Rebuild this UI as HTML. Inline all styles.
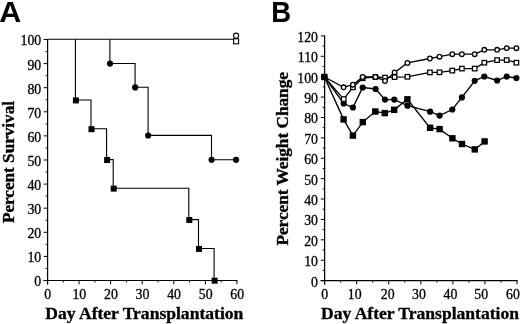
<!DOCTYPE html>
<html><head><meta charset="utf-8"><title>Figure</title>
<style>
html,body{margin:0;padding:0;background:#fff;}
body{width:520px;height:324px;overflow:hidden;font-family:"Liberation Serif",serif;}
svg{display:block;filter:grayscale(1);}
</style></head><body>
<svg width="520" height="324" viewBox="0 0 520 324">
<rect width="520" height="324" fill="#fff"/>
<line x1="47.6" y1="39" x2="47.6" y2="284.5" stroke="#000" stroke-width="1.25"/>
<line x1="43.5" y1="280.5" x2="237.42" y2="280.5" stroke="#000" stroke-width="1.2"/>
<line x1="43.7" y1="280.5" x2="47.5" y2="280.5" stroke="#000" stroke-width="1.0"/>
<text x="41.2" y="286.4" font-size="13.8" text-anchor="end" font-weight="normal" font-family="Liberation Serif, serif" stroke="#000" stroke-width="0.3">0</text>
<line x1="45.6" y1="268.45" x2="47.5" y2="268.45" stroke="#000" stroke-width="1.0"/>
<line x1="43.7" y1="256.4" x2="47.5" y2="256.4" stroke="#000" stroke-width="1.0"/>
<text x="41.2" y="262.3" font-size="13.8" text-anchor="end" font-weight="normal" font-family="Liberation Serif, serif" stroke="#000" stroke-width="0.3">10</text>
<line x1="45.6" y1="244.35" x2="47.5" y2="244.35" stroke="#000" stroke-width="1.0"/>
<line x1="43.7" y1="232.3" x2="47.5" y2="232.3" stroke="#000" stroke-width="1.0"/>
<text x="41.2" y="238.2" font-size="13.8" text-anchor="end" font-weight="normal" font-family="Liberation Serif, serif" stroke="#000" stroke-width="0.3">20</text>
<line x1="45.6" y1="220.25" x2="47.5" y2="220.25" stroke="#000" stroke-width="1.0"/>
<line x1="43.7" y1="208.2" x2="47.5" y2="208.2" stroke="#000" stroke-width="1.0"/>
<text x="41.2" y="214.1" font-size="13.8" text-anchor="end" font-weight="normal" font-family="Liberation Serif, serif" stroke="#000" stroke-width="0.3">30</text>
<line x1="45.6" y1="196.15" x2="47.5" y2="196.15" stroke="#000" stroke-width="1.0"/>
<line x1="43.7" y1="184.1" x2="47.5" y2="184.1" stroke="#000" stroke-width="1.0"/>
<text x="41.2" y="190" font-size="13.8" text-anchor="end" font-weight="normal" font-family="Liberation Serif, serif" stroke="#000" stroke-width="0.3">40</text>
<line x1="45.6" y1="172.05" x2="47.5" y2="172.05" stroke="#000" stroke-width="1.0"/>
<line x1="43.7" y1="160" x2="47.5" y2="160" stroke="#000" stroke-width="1.0"/>
<text x="41.2" y="165.9" font-size="13.8" text-anchor="end" font-weight="normal" font-family="Liberation Serif, serif" stroke="#000" stroke-width="0.3">50</text>
<line x1="45.6" y1="147.95" x2="47.5" y2="147.95" stroke="#000" stroke-width="1.0"/>
<line x1="43.7" y1="135.9" x2="47.5" y2="135.9" stroke="#000" stroke-width="1.0"/>
<text x="41.2" y="141.8" font-size="13.8" text-anchor="end" font-weight="normal" font-family="Liberation Serif, serif" stroke="#000" stroke-width="0.3">60</text>
<line x1="45.6" y1="123.85" x2="47.5" y2="123.85" stroke="#000" stroke-width="1.0"/>
<line x1="43.7" y1="111.8" x2="47.5" y2="111.8" stroke="#000" stroke-width="1.0"/>
<text x="41.2" y="117.7" font-size="13.8" text-anchor="end" font-weight="normal" font-family="Liberation Serif, serif" stroke="#000" stroke-width="0.3">70</text>
<line x1="45.6" y1="99.75" x2="47.5" y2="99.75" stroke="#000" stroke-width="1.0"/>
<line x1="43.7" y1="87.7" x2="47.5" y2="87.7" stroke="#000" stroke-width="1.0"/>
<text x="41.2" y="93.6" font-size="13.8" text-anchor="end" font-weight="normal" font-family="Liberation Serif, serif" stroke="#000" stroke-width="0.3">80</text>
<line x1="45.6" y1="75.65" x2="47.5" y2="75.65" stroke="#000" stroke-width="1.0"/>
<line x1="43.7" y1="63.6" x2="47.5" y2="63.6" stroke="#000" stroke-width="1.0"/>
<text x="41.2" y="69.5" font-size="13.8" text-anchor="end" font-weight="normal" font-family="Liberation Serif, serif" stroke="#000" stroke-width="0.3">90</text>
<line x1="45.6" y1="51.55" x2="47.5" y2="51.55" stroke="#000" stroke-width="1.0"/>
<line x1="43.7" y1="39.5" x2="47.5" y2="39.5" stroke="#000" stroke-width="1.0"/>
<text x="41.2" y="45.4" font-size="13.8" text-anchor="end" font-weight="normal" font-family="Liberation Serif, serif" stroke="#000" stroke-width="0.3">100</text>
<line x1="47.5" y1="280.5" x2="47.5" y2="284.3" stroke="#000" stroke-width="1.0"/>
<text x="47.8" y="298.7" font-size="13.8" text-anchor="middle" font-weight="normal" font-family="Liberation Serif, serif" stroke="#000" stroke-width="0.3">0</text>
<line x1="63.28" y1="280.5" x2="63.28" y2="282.4" stroke="#000" stroke-width="1.0"/>
<line x1="79.07" y1="280.5" x2="79.07" y2="284.3" stroke="#000" stroke-width="1.0"/>
<text x="79.37" y="298.7" font-size="13.8" text-anchor="middle" font-weight="normal" font-family="Liberation Serif, serif" stroke="#000" stroke-width="0.3">10</text>
<line x1="94.86" y1="280.5" x2="94.86" y2="282.4" stroke="#000" stroke-width="1.0"/>
<line x1="110.64" y1="280.5" x2="110.64" y2="284.3" stroke="#000" stroke-width="1.0"/>
<text x="110.94" y="298.7" font-size="13.8" text-anchor="middle" font-weight="normal" font-family="Liberation Serif, serif" stroke="#000" stroke-width="0.3">20</text>
<line x1="126.42" y1="280.5" x2="126.42" y2="282.4" stroke="#000" stroke-width="1.0"/>
<line x1="142.21" y1="280.5" x2="142.21" y2="284.3" stroke="#000" stroke-width="1.0"/>
<text x="142.51" y="298.7" font-size="13.8" text-anchor="middle" font-weight="normal" font-family="Liberation Serif, serif" stroke="#000" stroke-width="0.3">30</text>
<line x1="158" y1="280.5" x2="158" y2="282.4" stroke="#000" stroke-width="1.0"/>
<line x1="173.78" y1="280.5" x2="173.78" y2="284.3" stroke="#000" stroke-width="1.0"/>
<text x="174.08" y="298.7" font-size="13.8" text-anchor="middle" font-weight="normal" font-family="Liberation Serif, serif" stroke="#000" stroke-width="0.3">40</text>
<line x1="189.56" y1="280.5" x2="189.56" y2="282.4" stroke="#000" stroke-width="1.0"/>
<line x1="205.35" y1="280.5" x2="205.35" y2="284.3" stroke="#000" stroke-width="1.0"/>
<text x="205.65" y="298.7" font-size="13.8" text-anchor="middle" font-weight="normal" font-family="Liberation Serif, serif" stroke="#000" stroke-width="0.3">50</text>
<line x1="221.13" y1="280.5" x2="221.13" y2="282.4" stroke="#000" stroke-width="1.0"/>
<line x1="236.92" y1="280.5" x2="236.92" y2="284.3" stroke="#000" stroke-width="1.0"/>
<text x="237.22" y="298.7" font-size="13.8" text-anchor="middle" font-weight="normal" font-family="Liberation Serif, serif" stroke="#000" stroke-width="0.3">60</text>
<line x1="47.5" y1="39.2" x2="236" y2="39.2" stroke="#000" stroke-width="1.1"/>
<polyline points="75.4,39.2 75.4,100 91,100 91,128.8 106.6,128.8 106.6,159.6 113.2,159.6 113.2,188.2 188.8,188.2 188.8,219.6 198.5,219.6 198.5,248.5 214.1,248.5 214.1,280.3" fill="none" stroke="#000" stroke-width="1.1" stroke-linejoin="miter"/>
<polyline points="109.9,39.2 109.9,63.5 135.1,63.5 135.1,87.3 148.1,87.3 148.1,135.4 211.5,135.4 211.5,159.7 236,159.7" fill="none" stroke="#000" stroke-width="1.1" stroke-linejoin="miter"/>
<rect x="72.9" y="97.4" width="6.0" height="6.0" fill="#000"/>
<rect x="88.5" y="126.2" width="6.0" height="6.0" fill="#000"/>
<rect x="104.1" y="157" width="6.0" height="6.0" fill="#000"/>
<rect x="110.7" y="185.6" width="6.0" height="6.0" fill="#000"/>
<rect x="186.3" y="217" width="6.0" height="6.0" fill="#000"/>
<rect x="196" y="245.9" width="6.0" height="6.0" fill="#000"/>
<rect x="211.6" y="277.7" width="6.0" height="6.0" fill="#000"/>
<circle cx="110" cy="63.6" r="3.1" fill="#000"/>
<circle cx="135.2" cy="87.4" r="3.1" fill="#000"/>
<circle cx="148.2" cy="135.5" r="3.1" fill="#000"/>
<circle cx="211.6" cy="159.8" r="3.1" fill="#000"/>
<circle cx="236.1" cy="159.8" r="3.1" fill="#000"/>
<rect x="233.6" y="38.8" width="5.0" height="5.0" fill="#fff" stroke="#000" stroke-width="1.1"/>
<circle cx="236.1" cy="35.7" r="2.55" fill="#fff" stroke="#000" stroke-width="1.1"/>
<text x="14.2" y="162" font-size="17.2" text-anchor="middle" font-weight="bold" font-family="Liberation Serif, serif" stroke="#000" stroke-width="0.35" textLength="122" lengthAdjust="spacingAndGlyphs" transform="rotate(-90 14.2 162)">Percent Survival</text>
<text x="45.3" y="318.5" font-size="15.8" text-anchor="start" font-weight="bold" font-family="Liberation Serif, serif" stroke="#000" stroke-width="0.3" textLength="198" lengthAdjust="spacingAndGlyphs">Day After Transplantation</text>
<text transform="translate(-0.7 21.8) scale(1.05 1)" font-size="29" font-weight="bold" font-family="Liberation Sans, sans-serif">A</text>
<line x1="324.6" y1="35.42" x2="324.6" y2="284.6" stroke="#000" stroke-width="1.25"/>
<line x1="320.6" y1="280.6" x2="517.52" y2="280.6" stroke="#000" stroke-width="1.2"/>
<line x1="320.8" y1="280.6" x2="324.6" y2="280.6" stroke="#000" stroke-width="1.0"/>
<text x="318" y="286.6" font-size="13.8" text-anchor="end" font-weight="normal" font-family="Liberation Serif, serif" stroke="#000" stroke-width="0.3">0</text>
<line x1="322.7" y1="270.41" x2="324.6" y2="270.41" stroke="#000" stroke-width="1.0"/>
<line x1="320.8" y1="260.21" x2="324.6" y2="260.21" stroke="#000" stroke-width="1.0"/>
<text x="318" y="266.21" font-size="13.8" text-anchor="end" font-weight="normal" font-family="Liberation Serif, serif" stroke="#000" stroke-width="0.3">10</text>
<line x1="322.7" y1="250.02" x2="324.6" y2="250.02" stroke="#000" stroke-width="1.0"/>
<line x1="320.8" y1="239.82" x2="324.6" y2="239.82" stroke="#000" stroke-width="1.0"/>
<text x="318" y="245.82" font-size="13.8" text-anchor="end" font-weight="normal" font-family="Liberation Serif, serif" stroke="#000" stroke-width="0.3">20</text>
<line x1="322.7" y1="229.63" x2="324.6" y2="229.63" stroke="#000" stroke-width="1.0"/>
<line x1="320.8" y1="219.43" x2="324.6" y2="219.43" stroke="#000" stroke-width="1.0"/>
<text x="318" y="225.43" font-size="13.8" text-anchor="end" font-weight="normal" font-family="Liberation Serif, serif" stroke="#000" stroke-width="0.3">30</text>
<line x1="322.7" y1="209.24" x2="324.6" y2="209.24" stroke="#000" stroke-width="1.0"/>
<line x1="320.8" y1="199.04" x2="324.6" y2="199.04" stroke="#000" stroke-width="1.0"/>
<text x="318" y="205.04" font-size="13.8" text-anchor="end" font-weight="normal" font-family="Liberation Serif, serif" stroke="#000" stroke-width="0.3">40</text>
<line x1="322.7" y1="188.85" x2="324.6" y2="188.85" stroke="#000" stroke-width="1.0"/>
<line x1="320.8" y1="178.65" x2="324.6" y2="178.65" stroke="#000" stroke-width="1.0"/>
<text x="318" y="184.65" font-size="13.8" text-anchor="end" font-weight="normal" font-family="Liberation Serif, serif" stroke="#000" stroke-width="0.3">50</text>
<line x1="322.7" y1="168.46" x2="324.6" y2="168.46" stroke="#000" stroke-width="1.0"/>
<line x1="320.8" y1="158.26" x2="324.6" y2="158.26" stroke="#000" stroke-width="1.0"/>
<text x="318" y="164.26" font-size="13.8" text-anchor="end" font-weight="normal" font-family="Liberation Serif, serif" stroke="#000" stroke-width="0.3">60</text>
<line x1="322.7" y1="148.07" x2="324.6" y2="148.07" stroke="#000" stroke-width="1.0"/>
<line x1="320.8" y1="137.87" x2="324.6" y2="137.87" stroke="#000" stroke-width="1.0"/>
<text x="318" y="143.87" font-size="13.8" text-anchor="end" font-weight="normal" font-family="Liberation Serif, serif" stroke="#000" stroke-width="0.3">70</text>
<line x1="322.7" y1="127.68" x2="324.6" y2="127.68" stroke="#000" stroke-width="1.0"/>
<line x1="320.8" y1="117.48" x2="324.6" y2="117.48" stroke="#000" stroke-width="1.0"/>
<text x="318" y="123.48" font-size="13.8" text-anchor="end" font-weight="normal" font-family="Liberation Serif, serif" stroke="#000" stroke-width="0.3">80</text>
<line x1="322.7" y1="107.28" x2="324.6" y2="107.28" stroke="#000" stroke-width="1.0"/>
<line x1="320.8" y1="97.09" x2="324.6" y2="97.09" stroke="#000" stroke-width="1.0"/>
<text x="318" y="103.09" font-size="13.8" text-anchor="end" font-weight="normal" font-family="Liberation Serif, serif" stroke="#000" stroke-width="0.3">90</text>
<line x1="322.7" y1="86.9" x2="324.6" y2="86.9" stroke="#000" stroke-width="1.0"/>
<line x1="320.8" y1="76.7" x2="324.6" y2="76.7" stroke="#000" stroke-width="1.0"/>
<text x="318" y="82.7" font-size="13.8" text-anchor="end" font-weight="normal" font-family="Liberation Serif, serif" stroke="#000" stroke-width="0.3">100</text>
<line x1="322.7" y1="66.5" x2="324.6" y2="66.5" stroke="#000" stroke-width="1.0"/>
<line x1="320.8" y1="56.31" x2="324.6" y2="56.31" stroke="#000" stroke-width="1.0"/>
<text x="318" y="62.31" font-size="13.8" text-anchor="end" font-weight="normal" font-family="Liberation Serif, serif" stroke="#000" stroke-width="0.3">110</text>
<line x1="322.7" y1="46.12" x2="324.6" y2="46.12" stroke="#000" stroke-width="1.0"/>
<line x1="320.8" y1="35.92" x2="324.6" y2="35.92" stroke="#000" stroke-width="1.0"/>
<text x="318" y="41.92" font-size="13.8" text-anchor="end" font-weight="normal" font-family="Liberation Serif, serif" stroke="#000" stroke-width="0.3">120</text>
<line x1="324.6" y1="280.6" x2="324.6" y2="284.4" stroke="#000" stroke-width="1.0"/>
<text x="324.8" y="298.6" font-size="13.8" text-anchor="middle" font-weight="normal" font-family="Liberation Serif, serif" stroke="#000" stroke-width="0.3">0</text>
<line x1="340.64" y1="280.6" x2="340.64" y2="282.5" stroke="#000" stroke-width="1.0"/>
<line x1="356.67" y1="280.6" x2="356.67" y2="284.4" stroke="#000" stroke-width="1.0"/>
<text x="354.7" y="298.6" font-size="13.8" text-anchor="middle" font-weight="normal" font-family="Liberation Serif, serif" stroke="#000" stroke-width="0.3">10</text>
<line x1="372.71" y1="280.6" x2="372.71" y2="282.5" stroke="#000" stroke-width="1.0"/>
<line x1="388.74" y1="280.6" x2="388.74" y2="284.4" stroke="#000" stroke-width="1.0"/>
<text x="387.7" y="298.6" font-size="13.8" text-anchor="middle" font-weight="normal" font-family="Liberation Serif, serif" stroke="#000" stroke-width="0.3">20</text>
<line x1="404.78" y1="280.6" x2="404.78" y2="282.5" stroke="#000" stroke-width="1.0"/>
<line x1="420.81" y1="280.6" x2="420.81" y2="284.4" stroke="#000" stroke-width="1.0"/>
<text x="418.9" y="298.6" font-size="13.8" text-anchor="middle" font-weight="normal" font-family="Liberation Serif, serif" stroke="#000" stroke-width="0.3">30</text>
<line x1="436.85" y1="280.6" x2="436.85" y2="282.5" stroke="#000" stroke-width="1.0"/>
<line x1="452.88" y1="280.6" x2="452.88" y2="284.4" stroke="#000" stroke-width="1.0"/>
<text x="450.4" y="298.6" font-size="13.8" text-anchor="middle" font-weight="normal" font-family="Liberation Serif, serif" stroke="#000" stroke-width="0.3">40</text>
<line x1="468.92" y1="280.6" x2="468.92" y2="282.5" stroke="#000" stroke-width="1.0"/>
<line x1="484.95" y1="280.6" x2="484.95" y2="284.4" stroke="#000" stroke-width="1.0"/>
<text x="481.2" y="298.6" font-size="13.8" text-anchor="middle" font-weight="normal" font-family="Liberation Serif, serif" stroke="#000" stroke-width="0.3">50</text>
<line x1="500.99" y1="280.6" x2="500.99" y2="282.5" stroke="#000" stroke-width="1.0"/>
<line x1="517.02" y1="280.6" x2="517.02" y2="284.4" stroke="#000" stroke-width="1.0"/>
<text x="512.9" y="298.6" font-size="13.8" text-anchor="middle" font-weight="normal" font-family="Liberation Serif, serif" stroke="#000" stroke-width="0.3">60</text>
<polyline points="324.4,77 343.6,119.4 352.9,135.6 362.8,122.1 375.3,111.5 384.8,113.1 394.2,109.8 407.4,99.3 430.1,127.8 439.6,129.1 452.4,138.3 462,144 474.8,149.4 484.6,141.4" fill="none" stroke="#000" stroke-width="1.35" stroke-linejoin="miter"/>
<polyline points="324.4,77 343.7,103.5 352.9,107.5 362.7,87.5 375.6,89 385,99.6 394.3,99.6 407.5,105.7 430.1,111.7 439.6,115.6 452.3,109.5 461.9,97.4 474.7,80.8 484.3,76.5 497.1,80.5 506.7,76.5 516.4,78" fill="none" stroke="#000" stroke-width="1.35" stroke-linejoin="miter"/>
<polyline points="324.4,77 343.7,99.1 352.9,87.3 362.7,78.2 375.4,77 385,77.6 394.6,77.1 407.4,76.8 429.9,72.4 439.5,72.3 452.3,70.6 461.9,68.6 474.7,68.6 484.3,62.7 497.1,60.1 506.7,60.1 516.4,62.7" fill="none" stroke="#000" stroke-width="1.3" stroke-linejoin="miter"/>
<polyline points="324.4,77 343.6,87.3 352.9,84.7 362.7,77 375.4,77 385,81 394.6,72.4 407.4,62.9 429.9,58.5 439.5,56.7 452.3,54.2 461.9,54.2 474.7,54.2 484.3,49.8 497.1,49.8 506.7,48.1 516.4,48.2" fill="none" stroke="#000" stroke-width="1.3" stroke-linejoin="miter"/>
<rect x="321.2" y="73.8" width="6.4" height="6.4" fill="#000"/>
<rect x="340.4" y="116.2" width="6.4" height="6.4" fill="#000"/>
<rect x="349.7" y="132.4" width="6.4" height="6.4" fill="#000"/>
<rect x="359.6" y="118.9" width="6.4" height="6.4" fill="#000"/>
<rect x="372.1" y="108.3" width="6.4" height="6.4" fill="#000"/>
<rect x="381.6" y="109.9" width="6.4" height="6.4" fill="#000"/>
<rect x="391" y="106.6" width="6.4" height="6.4" fill="#000"/>
<rect x="404.2" y="96.1" width="6.4" height="6.4" fill="#000"/>
<rect x="426.9" y="124.6" width="6.4" height="6.4" fill="#000"/>
<rect x="436.4" y="125.9" width="6.4" height="6.4" fill="#000"/>
<rect x="449.2" y="135.1" width="6.4" height="6.4" fill="#000"/>
<rect x="458.8" y="140.8" width="6.4" height="6.4" fill="#000"/>
<rect x="471.6" y="146.2" width="6.4" height="6.4" fill="#000"/>
<rect x="481.4" y="138.2" width="6.4" height="6.4" fill="#000"/>
<circle cx="324.4" cy="77" r="3.1" fill="#000"/>
<circle cx="343.7" cy="103.5" r="3.1" fill="#000"/>
<circle cx="352.9" cy="107.5" r="3.1" fill="#000"/>
<circle cx="362.7" cy="87.5" r="3.1" fill="#000"/>
<circle cx="375.6" cy="89" r="3.1" fill="#000"/>
<circle cx="385" cy="99.6" r="3.1" fill="#000"/>
<circle cx="394.3" cy="99.6" r="3.1" fill="#000"/>
<circle cx="407.5" cy="105.7" r="3.1" fill="#000"/>
<circle cx="430.1" cy="111.7" r="3.1" fill="#000"/>
<circle cx="439.6" cy="115.6" r="3.1" fill="#000"/>
<circle cx="452.3" cy="109.5" r="3.1" fill="#000"/>
<circle cx="461.9" cy="97.4" r="3.1" fill="#000"/>
<circle cx="474.7" cy="80.8" r="3.1" fill="#000"/>
<circle cx="484.3" cy="76.5" r="3.1" fill="#000"/>
<circle cx="497.1" cy="80.5" r="3.1" fill="#000"/>
<circle cx="506.7" cy="76.5" r="3.1" fill="#000"/>
<circle cx="516.4" cy="78" r="3.1" fill="#000"/>
<rect x="341.45" y="96.85" width="4.5" height="4.5" fill="#fff" stroke="#000" stroke-width="1.25"/>
<rect x="350.65" y="85.05" width="4.5" height="4.5" fill="#fff" stroke="#000" stroke-width="1.25"/>
<rect x="360.45" y="75.95" width="4.5" height="4.5" fill="#fff" stroke="#000" stroke-width="1.25"/>
<rect x="373.15" y="74.75" width="4.5" height="4.5" fill="#fff" stroke="#000" stroke-width="1.25"/>
<rect x="382.75" y="75.35" width="4.5" height="4.5" fill="#fff" stroke="#000" stroke-width="1.25"/>
<rect x="392.35" y="74.85" width="4.5" height="4.5" fill="#fff" stroke="#000" stroke-width="1.25"/>
<rect x="405.15" y="74.55" width="4.5" height="4.5" fill="#fff" stroke="#000" stroke-width="1.25"/>
<rect x="427.65" y="70.15" width="4.5" height="4.5" fill="#fff" stroke="#000" stroke-width="1.25"/>
<rect x="437.25" y="70.05" width="4.5" height="4.5" fill="#fff" stroke="#000" stroke-width="1.25"/>
<rect x="450.05" y="68.35" width="4.5" height="4.5" fill="#fff" stroke="#000" stroke-width="1.25"/>
<rect x="459.65" y="66.35" width="4.5" height="4.5" fill="#fff" stroke="#000" stroke-width="1.25"/>
<rect x="472.45" y="66.35" width="4.5" height="4.5" fill="#fff" stroke="#000" stroke-width="1.25"/>
<rect x="482.05" y="60.45" width="4.5" height="4.5" fill="#fff" stroke="#000" stroke-width="1.25"/>
<rect x="494.85" y="57.85" width="4.5" height="4.5" fill="#fff" stroke="#000" stroke-width="1.25"/>
<rect x="504.45" y="57.85" width="4.5" height="4.5" fill="#fff" stroke="#000" stroke-width="1.25"/>
<rect x="514.15" y="60.45" width="4.5" height="4.5" fill="#fff" stroke="#000" stroke-width="1.25"/>
<circle cx="343.6" cy="87.3" r="2.3" fill="#fff" stroke="#000" stroke-width="1.3"/>
<circle cx="352.9" cy="84.7" r="2.3" fill="#fff" stroke="#000" stroke-width="1.3"/>
<circle cx="362.7" cy="77" r="2.3" fill="#fff" stroke="#000" stroke-width="1.3"/>
<circle cx="375.4" cy="77" r="2.3" fill="#fff" stroke="#000" stroke-width="1.3"/>
<circle cx="385" cy="81" r="2.3" fill="#fff" stroke="#000" stroke-width="1.3"/>
<circle cx="394.6" cy="72.4" r="2.3" fill="#fff" stroke="#000" stroke-width="1.3"/>
<circle cx="407.4" cy="62.9" r="2.3" fill="#fff" stroke="#000" stroke-width="1.3"/>
<circle cx="429.9" cy="58.5" r="2.3" fill="#fff" stroke="#000" stroke-width="1.3"/>
<circle cx="439.5" cy="56.7" r="2.3" fill="#fff" stroke="#000" stroke-width="1.3"/>
<circle cx="452.3" cy="54.2" r="2.3" fill="#fff" stroke="#000" stroke-width="1.3"/>
<circle cx="461.9" cy="54.2" r="2.3" fill="#fff" stroke="#000" stroke-width="1.3"/>
<circle cx="474.7" cy="54.2" r="2.3" fill="#fff" stroke="#000" stroke-width="1.3"/>
<circle cx="484.3" cy="49.8" r="2.3" fill="#fff" stroke="#000" stroke-width="1.3"/>
<circle cx="497.1" cy="49.8" r="2.3" fill="#fff" stroke="#000" stroke-width="1.3"/>
<circle cx="506.7" cy="48.1" r="2.3" fill="#fff" stroke="#000" stroke-width="1.3"/>
<circle cx="516.4" cy="48.2" r="2.3" fill="#fff" stroke="#000" stroke-width="1.3"/>
<text x="288" y="158.8" font-size="17.2" text-anchor="middle" font-weight="bold" font-family="Liberation Serif, serif" stroke="#000" stroke-width="0.35" textLength="173.5" lengthAdjust="spacingAndGlyphs" transform="rotate(-90 288.0 158.8)">Percent Weight Change</text>
<text x="321" y="318.5" font-size="15.8" text-anchor="start" font-weight="bold" font-family="Liberation Serif, serif" stroke="#000" stroke-width="0.3" textLength="198" lengthAdjust="spacingAndGlyphs">Day After Transplantation</text>
<text transform="translate(271.3 21.8) scale(0.95 1)" font-size="29" font-weight="bold" font-family="Liberation Sans, sans-serif">B</text>
</svg>
</body></html>
